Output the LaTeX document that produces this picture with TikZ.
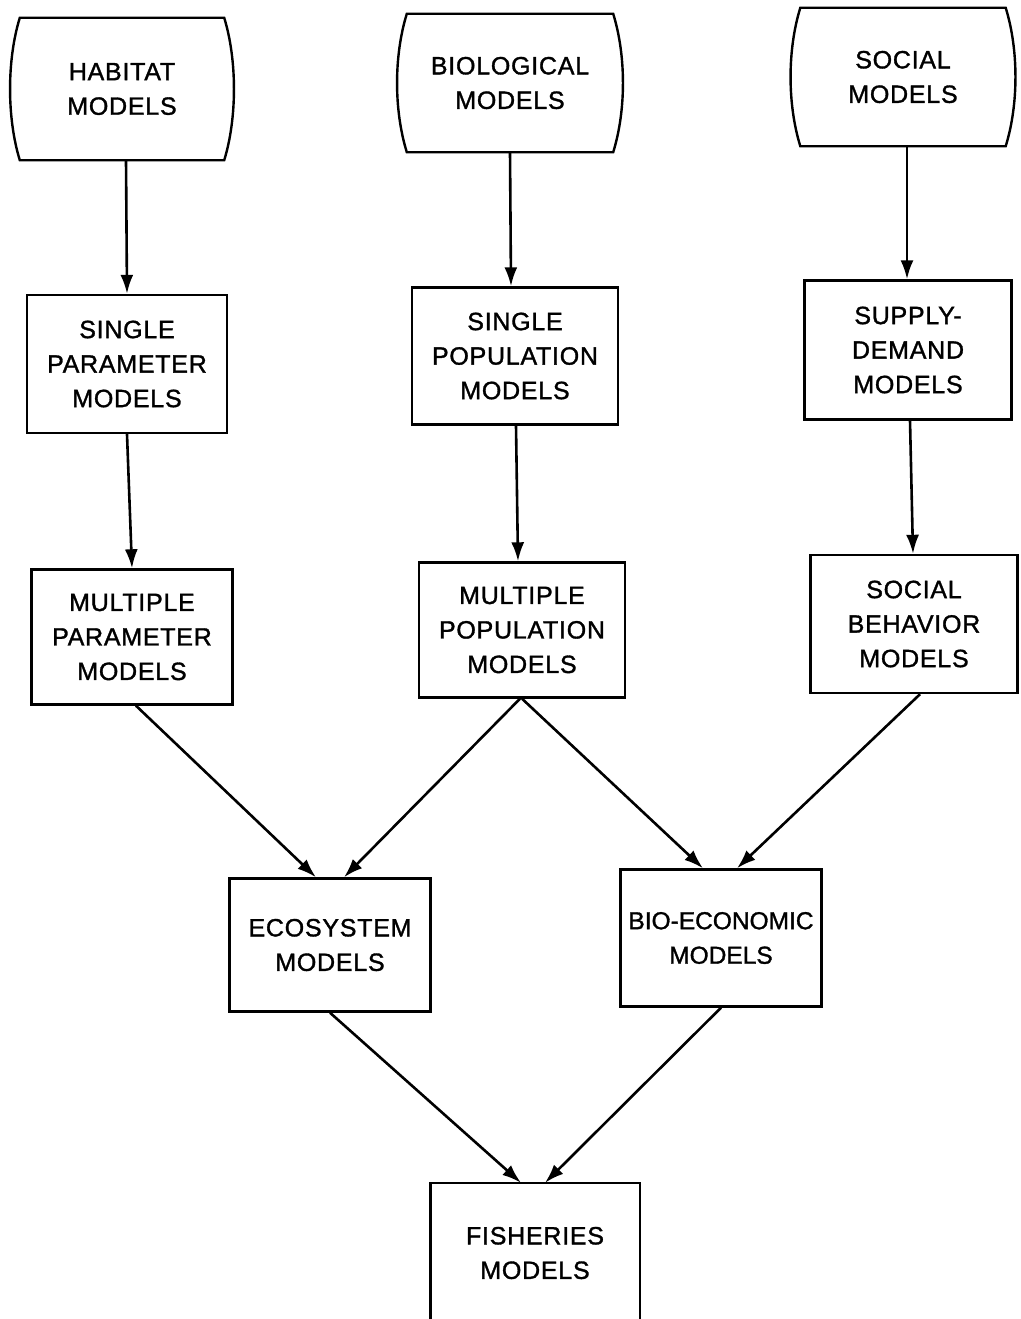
\documentclass[tikz,border=0pt]{standalone}
\usepackage{fontspec}
\setmainfont{Liberation Sans}[LetterSpace=3,FakeBold=1.3]
\usetikzlibrary{arrows.meta,calc}
\begin{document}
\begin{tikzpicture}[x=1pt,y=-1pt,
  lbl/.style={align=center,font=\fontsize{25}{34.5}\selectfont,inner sep=0pt},
  boxn/.style={lbl,draw,line width=2.4pt},
  barreln/.style={lbl},
  arr/.style={line width=2.6pt,-{Latex[length=19pt,width=13pt]}}]
\useasboundingbox (0,0) rectangle (1020,1319);
\newcommand{\barrelshape}[1]{%
  \draw[line width=2.4pt] (#1.north west) -- (#1.north east)
    .. controls ($(#1.north east)+(13,42)$) and ($(#1.south east)+(13,-42)$) .. (#1.south east)
    -- (#1.south west)
    .. controls ($(#1.south west)+(-13,-42)$) and ($(#1.north west)+(-13,42)$) .. (#1.north west) -- cycle;}
% top row
\node[barreln,minimum width=204pt,minimum height=142pt] (hab) at (122,89) {HABITAT\\MODELS};
\node[barreln,minimum width=206pt,minimum height=138pt] (bio) at (510,83) {BIOLOGICAL\\MODELS};
\node[barreln,minimum width=205pt,minimum height=138pt] (soc) at (903,77) {SOCIAL\\MODELS};
\barrelshape{hab}\barrelshape{bio}\barrelshape{soc}
% second row
\node[boxn,minimum width=200pt,minimum height=138pt] (sp) at (127,364) {SINGLE\\PARAMETER\\MODELS};
\node[boxn,minimum width=206pt,minimum height=137pt] (spop) at (515,356) {SINGLE\\POPULATION\\MODELS};
\node[boxn,minimum width=207pt,minimum height=139pt] (sd) at (908,350) {SUPPLY-\\DEMAND\\MODELS};
% third row
\node[boxn,minimum width=201pt,minimum height=135pt] (mp) at (132,637) {MULTIPLE\\PARAMETER\\MODELS};
\node[boxn,minimum width=206pt,minimum height=135pt] (mpop) at (522,630) {MULTIPLE\\POPULATION\\MODELS};
\node[boxn,minimum width=207pt,minimum height=138pt] (sb) at (914,624) {SOCIAL\\BEHAVIOR\\MODELS};
% fourth row
\node[boxn,minimum width=201pt,minimum height=133pt] (eco) at (330,945) {ECOSYSTEM\\MODELS};
\node[boxn,minimum width=201pt,minimum height=137pt,font=\fontsize{24.5}{34.5}\selectfont\addfontfeatures{LetterSpace=0}] (be) at (721,938) {BIO-ECONOMIC\\MODELS};
% bottom
\node[lbl,minimum width=209pt,minimum height=140pt] (fish) at (535,1253) {FISHERIES\\MODELS};
\draw[line width=2.4pt] (fish.south west) -- (fish.north west) -- (fish.north east) -- (fish.south east);
% arrows
\draw[arr] ($(hab.south)+(4,0)$) -- (sp.north);
\draw[arr] (bio.south) -- ($(spop.north)+(-4,0)$);
\draw[arr] ($(soc.south)+(4,0)$) -- ($(sd.north)+(-1,0)$);
\draw[arr] (sp.south) -- (mp.north);
\draw[arr] ($(spop.south)+(1,0)$) -- ($(mpop.north)+(-4,0)$);
\draw[arr] ($(sd.south)+(2,0)$) -- ($(sb.north)+(-1,0)$);
\draw[arr] ($(mp.south)+(4,0)$) -- ($(eco.north)+(-14,0)$);
\draw[arr] ($(mpop.south)+(-2,0)$) -- ($(eco.north)+(14,0)$);
\draw[arr] ($(mpop.south)+(0,0)$) -- ($(be.north)+(-18,0)$);
\draw[arr] ($(sb.south)+(6,0)$) -- ($(be.north)+(16,0)$);
\draw[arr] (eco.south) -- ($(fish.north)+(-14,0)$);
\draw[arr] (be.south) -- ($(fish.north)+(10,0)$);
\end{tikzpicture}
\end{document}
